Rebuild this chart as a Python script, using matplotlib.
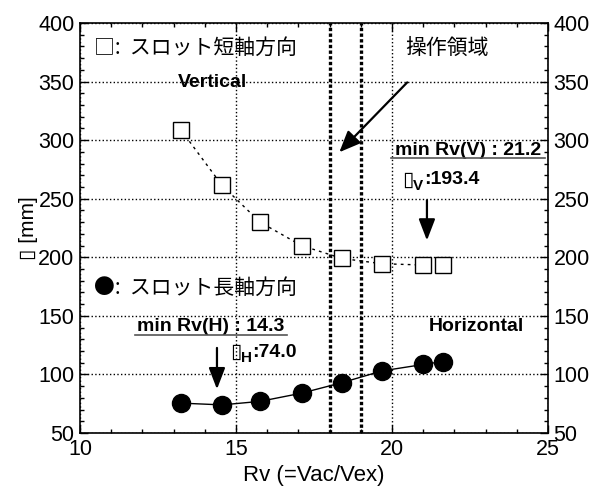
import numpy as np
import matplotlib.pyplot as plt
from matplotlib.ticker import MultipleLocator

plt.rcParams['font.family'] = ['Liberation Sans', 'Noto Sans CJK JP', 'DejaVu Sans']

# data
rv = [13.24, 14.55, 15.77, 17.1, 18.4, 19.68, 21.0, 21.63]
lam_v = [308.5, 261.5, 230.0, 210.0, 199.0, 194.5, 193.4, 193.5]
lam_h = [75.5, 74.0, 77.0, 84.0, 93.0, 103.0, 108.5, 111.0]
operating = [18.0, 19.0]

fig = plt.figure(figsize=(5.92, 4.93), dpi=100)
ax = fig.add_axes([80 / 592, 60 / 493, 468 / 592, 410 / 493])

ax.plot(rv, lam_v, color='black', linestyle=(0, (2, 3)), linewidth=1.0,
        marker='s', markersize=11, markerfacecolor='white',
        markeredgecolor='black', markeredgewidth=1.0, zorder=4)
ax.plot(rv, lam_h, color='black', linestyle='-', linewidth=1.0,
        marker='o', markersize=13, markerfacecolor='black',
        markeredgecolor='black', zorder=4)

for xv in operating:
    ax.axvline(xv, color='black', linestyle=(0, (1.0, 0.7)), linewidth=2.4, zorder=3)

ax.set_xlim(10, 25)
ax.set_ylim(50, 400)
ax.xaxis.set_major_locator(MultipleLocator(5))
ax.xaxis.set_minor_locator(MultipleLocator(1))
ax.yaxis.set_major_locator(MultipleLocator(50))
ax.yaxis.set_minor_locator(MultipleLocator(10))
ax.set_axisbelow(True)
ax.grid(True, which='major', color='black', linestyle=':', linewidth=1.0)
ax.tick_params(which='both', direction='in', top=True, right=True,
               labelright=True, labelsize=15.5, width=1.0)
ax.tick_params(which='major', length=6, pad=4)
ax.tick_params(which='minor', length=3)
for s in ax.spines.values():
    s.set_linewidth(1.2)

box = ['DejaVu Sans']
ax.set_xlabel('Rv (=Vac/Vex)', fontsize=16, labelpad=4)
ax.set_ylabel('▯ [mm]', fontsize=15, labelpad=0,
              family=['Liberation Sans', 'DejaVu Sans'])

jp = ['Noto Sans CJK JP', 'DejaVu Sans']
ax.text(10.45, 379, '□:  スロット短軸方向', fontsize=15, family=jp, va='center')
ax.text(13.14, 349.5, 'Vertical', fontsize=14, fontweight='bold', va='center')
ax.text(20.42, 379, '操作領域', fontsize=15, family=jp, va='center')
ax.annotate('', xy=(18.25, 288), xytext=(20.55, 351),
            arrowprops=dict(arrowstyle='-|>,head_length=1.3,head_width=0.55',
                            color='black', linewidth=1.6), zorder=5)

ax.text(10.45, 174, '●:  スロット長軸方向', fontsize=15, family=jp, va='center')
ax.text(21.19, 141, 'Horizontal', fontsize=14, fontweight='bold', va='center')


def lam_label(x, y, sub, value):
    ax.annotate('▯', (x, y), fontsize=15, family=box, fontweight='bold',
                va='center', ha='left')
    ax.annotate(sub, (x, y), xytext=(8, -4), textcoords='offset points',
                fontsize=11, fontweight='bold', va='center', ha='left')
    ax.annotate(value, (x, y), xytext=(16, 0), textcoords='offset points',
                fontsize=14, fontweight='bold', va='center', ha='left')


# V annotation
ax.text(22.44, 291.5, 'min Rv(V) : 21.2', fontsize=14, fontweight='bold',
        ha='center', va='center')
ax.plot([19.97, 24.9], [284.5, 284.5], color='#555555', linewidth=1.2, zorder=5)
lam_label(20.32, 266, 'V', ':193.4')
ax.annotate('', xy=(21.12, 212), xytext=(21.12, 251),
            arrowprops=dict(arrowstyle='-|>,head_length=1.3,head_width=0.5',
                            color='black', linewidth=1.6), zorder=5)

# H annotation
ax.text(14.2, 140.5, 'min Rv(H) : 14.3', fontsize=14, fontweight='bold',
        ha='center', va='center')
ax.plot([11.76, 16.63], [134, 134], color='#555555', linewidth=1.2, zorder=5)
lam_label(14.8, 119, 'H', ':74.0')
ax.annotate('', xy=(14.39, 85), xytext=(14.39, 125),
            arrowprops=dict(arrowstyle='-|>,head_length=1.3,head_width=0.5',
                            color='black', linewidth=1.6), zorder=5)

fig.savefig('out.png', dpi=100)
